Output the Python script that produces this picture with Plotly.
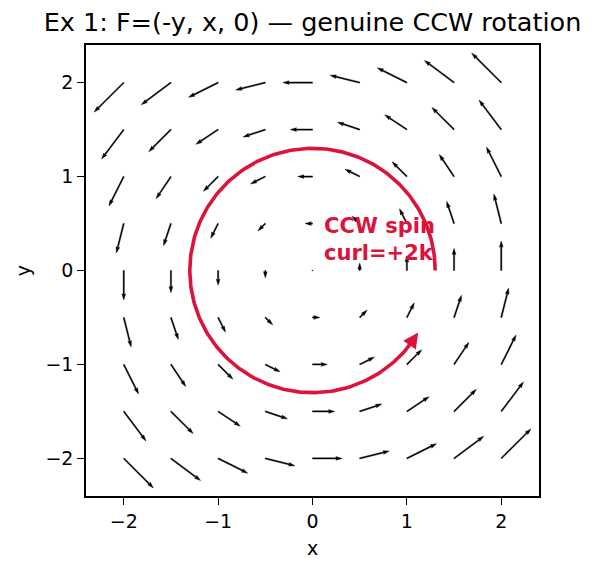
import numpy as np
import plotly.graph_objects as go

# ---- data ----
grid_vals = [-2.0, -1.5, -1.0, -0.5, 0.0, 0.5, 1.0, 1.5, 2.0]
tick_vals = [-2, -1, 0, 1, 2]
tick_text = ["\u22122", "\u22121", "0", "1", "2"]
arc_radius = 1.3
arc_start_deg = 0.0
arc_end_deg = 329.5
label_lines = ["CCW spin", "curl=+2k"]
title_text = "Ex 1: F=(-y, x, 0) \u2014 genuine CCW rotation"

CRIMSON = "#DC143C"

# quiver geometry (matplotlib-like)
SCALE = 0.157          # data units per unit of field magnitude
PX_PER_UNIT = 94.1
W = 1.25 / PX_PER_UNIT  # shaft width in data units
HEADW, HEADL, HEADAXL, MINSHAFT, MINLEN = 3.0, 5.0, 4.5, 1.0, 1.0


def arrow_poly(x0, y0, u, v):
    L = np.hypot(u, v) * SCALE / W  # length in shaft widths
    ang = np.arctan2(v, u)
    minsh = MINSHAFT * HEADL
    if L < MINLEN:
        th = np.arange(0, 8) * (np.pi / 3.0)
        X = np.cos(th) * MINLEN * 0.5
        Y = np.sin(th) * MINLEN * 0.5
    elif L < minsh:
        x = np.array([0, minsh - HEADAXL, minsh - HEADL, minsh])
        y = 0.5 * np.array([1, 1, HEADW, 0])
        ii = [0, 1, 2, 3, 2, 1, 0, 0]
        X = x[ii] * (L / minsh)
        Y = y[ii].copy()
        Y[3:-1] *= -1
        Y = Y * (L / minsh)
    else:
        x = np.array([0, -HEADAXL, -HEADL, 0]) + np.array([0, 1, 1, 1]) * L
        y = 0.5 * np.array([1, 1, HEADW, 0])
        ii = [0, 1, 2, 3, 2, 1, 0, 0]
        X = x[ii]
        Y = y[ii].copy()
        Y[3:-1] *= -1
    c, s = np.cos(ang), np.sin(ang)
    xs = x0 + W * (X * c - Y * s)
    ys = y0 + W * (X * s + Y * c)
    return list(xs), list(ys)


qx, qy = [], []
for xv in grid_vals:
    for yv in grid_vals:
        u, v = -yv, xv
        px, py = arrow_poly(xv, yv, u, v)
        qx += px + [None]
        qy += py + [None]

fig = go.Figure()
fig.add_trace(go.Scatter(x=qx, y=qy, mode="lines", fill="toself",
                         fillcolor="black", line=dict(color="black", width=0.4),
                         hoverinfo="skip", showlegend=False))

theta = np.radians(np.linspace(arc_start_deg, arc_end_deg - 4, 300))
fig.add_trace(go.Scatter(x=arc_radius * np.cos(theta), y=arc_radius * np.sin(theta),
                         mode="lines", line=dict(color=CRIMSON, width=3.6),
                         hoverinfo="skip", showlegend=False))

t_tail = np.radians(arc_end_deg - 8)
t_tip = np.radians(arc_end_deg)
fig.add_annotation(x=arc_radius * np.cos(t_tip), y=arc_radius * np.sin(t_tip),
                   ax=arc_radius * np.cos(t_tail), ay=arc_radius * np.sin(t_tail),
                   xref="x", yref="y", axref="x", ayref="y", text="",
                   showarrow=True, arrowhead=2, arrowsize=0.85, arrowwidth=3.6,
                   arrowcolor=CRIMSON, standoff=0)

fig.add_annotation(x=0.1, y=0.33, xref="x", yref="y", xanchor="left", yanchor="middle",
                   align="left", showarrow=False,
                   text="<b>" + "<br>".join(label_lines) + "</b>",
                   font=dict(family="DejaVu Sans", size=21, color=CRIMSON))

axis_common = dict(range=[-2.4, 2.4], showgrid=False, zeroline=False,
                   showline=True, linecolor="black", linewidth=1.5, mirror=True,
                   ticks="outside", ticklen=7, tickwidth=1.3, tickcolor="black",
                   tickvals=tick_vals, ticktext=tick_text,
                   tickfont=dict(family="DejaVu Sans", size=19, color="black"))

fig.update_xaxes(**axis_common, title=dict(text="x", standoff=11,
                 font=dict(family="DejaVu Sans", size=19, color="black")))
fig.update_yaxes(**axis_common, title=dict(text="y", standoff=10,
                 font=dict(family="DejaVu Sans", size=19, color="black")))

fig.update_layout(
    width=597, height=573,
    margin=dict(l=86, r=58, t=45, b=77),
    paper_bgcolor="white", plot_bgcolor="white",
    title=dict(text=title_text, x=0.5, xref="paper", xanchor="center",
               y=1 - 22 / 573, yref="container", yanchor="middle",
               font=dict(family="DejaVu Sans", size=25.5, color="black")),
)

fig.write_html("out.html")
